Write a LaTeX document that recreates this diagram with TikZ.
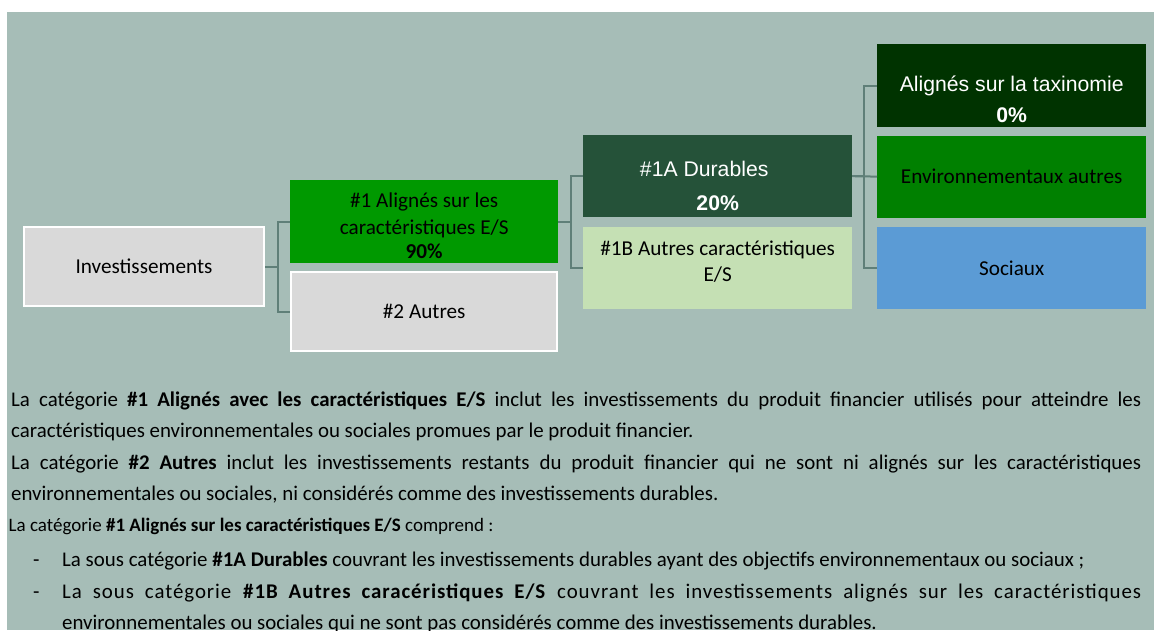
\documentclass[tikz,border=0pt]{standalone}
\usepackage{fontspec}
\setmainfont{Carlito}
\newfontfamily\arialfam{Liberation Sans}
\usetikzlibrary{positioning,calc}

\definecolor{bgcol}{HTML}{A6BDB7}
\definecolor{linkcol}{HTML}{5F7F78}
\definecolor{greycol}{HTML}{D9D9D9}
\definecolor{onecol}{HTML}{009900}
\definecolor{durAcol}{HTML}{255239}
\definecolor{durBcol}{HTML}{C5E0B4}
\definecolor{taxocol}{HTML}{003300}
\definecolor{envcol}{HTML}{008000}
\definecolor{soccol}{HTML}{5B9BD5}

\newcommand{\boxtxt}{\fontsize{21.2}{27.3}\selectfont}
\newcommand{\bodytxt}{\fontsize{20.9}{31}\selectfont}

\begin{document}
\begin{tikzpicture}[x=1pt,y=-1pt,
    box/.style={rectangle,inner sep=0pt,minimum width=269pt,minimum height=82pt,font=\boxtxt},
    greybox/.style={box,fill=greycol,draw=white,line width=2pt},
    link/.style={draw=linkcol,line width=2pt},
    wtext/.style={align=center,text=white,font=\boxtxt\arialfam}]
  % page and panel
  \useasboundingbox[fill=white] (0,0) rectangle (1154,630);
  \fill[bgcol] (7,12) rectangle (1154,630);

  % first column
  \node[greybox,minimum width=240pt,minimum height=79pt,anchor=north west] (inv) at (23,226) {Investissements};

  % second column
  \node[box,fill=onecol,minimum width=268pt,minimum height=83pt,anchor=north west] (one) at (290,180) {};
  \node[greybox,minimum width=266pt,minimum height=79pt,below=8pt of one] (two) {\#2 Autres};
  \node[align=center,font=\boxtxt] (onetxt) at ([yshift=-4pt]one.center)
    {\#1 Alignés sur les\\caractéristiques E/S\\[-4pt]\textbf{90\%}};

  % third column
  \node[box,fill=durAcol,anchor=north west] (durA) at (583,135) {};
  \node[box,fill=durBcol,below=9pt of durA] (durB) {};
  \node[wtext] (durAtxt) at ([yshift=-9.6pt]durA.center)
    {\#1A Durables\hspace*{27pt}\\[7.4pt]\textbf{20\%}};
  \node[align=center,font=\boxtxt] (durBtxt) at ([yshift=6pt]durB.center)
    {\#1B Autres caractéristiques\\[-1.6pt]E/S};

  % fourth column
  \node[box,fill=taxocol,minimum height=83pt,anchor=north west] (taxo) at (877,44) {};
  \node[box,fill=envcol,below=8pt of taxo] (env) {Environnementaux autres};
  \node[box,fill=soccol,below=9pt of env] (soc) {Sociaux};
  \node[wtext] (taxotxt) at ([yshift=-13.6pt]taxo.center)
    {Alignés sur la taxinomie\\[4.4pt]\textbf{0\%}};

  % connectors
  \draw[link] (inv.east) -- ++(12.5,0) |- (one.west);
  \draw[link] (inv.east) -- ++(12.5,0) |- (two.west);
  \draw[link] (one.east) -- ++(13,0) |- (durA.west);
  \draw[link] (one.east) -- ++(13,0) |- (durB.west);
  \draw[link] (durA.east) -- ++(12,0) |- (taxo.west);
  \draw[link] (durA.east) -- (env.west);
  \draw[link] (durA.east) -- ++(12,0) |- (soc.west);

  % explanations
  \node[anchor=north west,inner sep=0pt,text width=1130pt,align=justify,font=\bodytxt] (notes) at (11,390) {%
    \setlength{\parindent}{0pt}\setlength{\parskip}{0pt}%
    \tolerance=10000 \hyphenpenalty=10000 \exhyphenpenalty=10000
    \rule{0pt}{16pt}La catégorie \textbf{\#1 Alignés avec les caractéristiques E/S} inclut les investissements du produit financier utilisés pour atteindre les\linebreak
    caractéristiques environnementales ou sociales promues par le produit financier.\par
    \vspace{1.6pt}%
    La catégorie \textbf{\#2 Autres} inclut les investissements restants du produit financier qui ne sont ni alignés sur les caractéristiques\linebreak
    environnementales ou sociales, ni considérés comme des investissements durables.\par
    {\fontsize{19}{31}\selectfont\hspace*{-2.5pt}La catégorie \textbf{\#1 Alignés sur les caractéristiques E/S} comprend :\par}
    \vspace{3.3pt}%
    \hspace*{22pt}\makebox[29pt][l]{-}La sous catégorie \textbf{\#1A Durables} couvrant les investissements durables ayant des objectifs environnementaux ou sociaux ;\par
    \vspace{1.7pt}%
    \hangindent=51pt \hangafter=1
    \hspace*{22pt}\makebox[29pt][l]{-}{\addfontfeature{LetterSpace=4.5}La sous catégorie \textbf{\#1B Autres caracéristiques E/S} couvrant les investissements alignés sur les caractéristiques}\linebreak
    environnementales ou sociales qui ne sont pas considérés comme des investissements durables.\par
  };
\end{tikzpicture}
\end{document}
